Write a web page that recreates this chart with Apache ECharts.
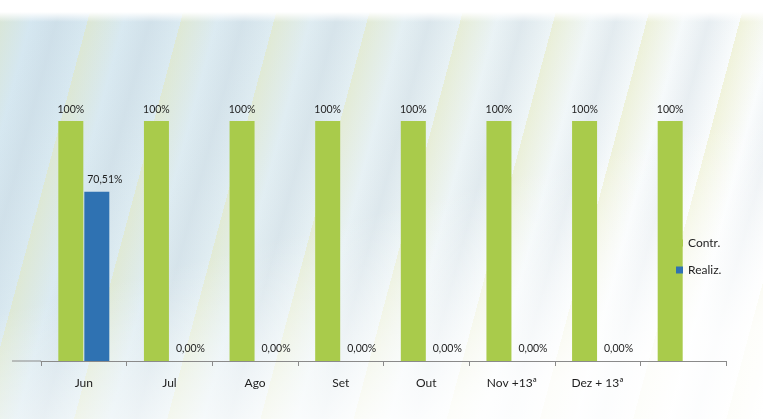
<!DOCTYPE html>
<html>
<head>
<meta charset="utf-8">
<script src="https://cdn.jsdelivr.net/npm/echarts@6/dist/echarts.min.js"></script>
<style>
  html, body { margin: 0; padding: 0; }
  body {
    width: 763px; height: 419px; overflow: hidden;
    background:
      linear-gradient(180deg, #ffffff 0px, #ffffff 12px, rgba(255,255,255,0) 22px),
      linear-gradient(165deg, rgba(255,255,255,0) 50%, rgba(255,255,255,0.85) 85%),
      repeating-linear-gradient(105deg, rgba(228,230,170,0.4) 0px, rgba(228,230,170,0) 35px, rgba(185,200,212,0.25) 60px, rgba(228,230,170,0) 90px),
      linear-gradient(120deg, #d3e6f0 0%, #e0edf2 35%, #ecf4f6 55%, #f8fbfc 75%, #ffffff 100%);
  }
  #chart { width: 763px; height: 419px; }
</style>
</head>
<body>
<div id="chart"></div>
<script>
var months = ['Jun', 'Jul', 'Ago', 'Set', 'Out', 'Nov +13ª', 'Dez + 13ª', ''];
var contr = [100, 100, 100, 100, 100, 100, 100, 100];
var realiz = [70.51, 0, 0, 0, 0, 0, 0, null];

var chart = echarts.init(document.getElementById('chart'));

function pct(v) {
  return v.toFixed(2).replace('.', ',') + '%';
}

var option = {
  textStyle: { fontFamily: 'Lato, "Open Sans", sans-serif' },
  grid: { left: 41, right: 37, top: 121, bottom: 58 },
  legend: {
    orient: 'vertical',
    left: 671,
    top: 232,
    itemWidth: 7,
    itemHeight: 7,
    itemGap: 15,
    icon: 'rect',
    textStyle: { color: '#1e1e1e', fontSize: 12 },
    data: ['Contr.', 'Realiz.']
  },
  xAxis: {
    type: 'category',
    data: months,
    axisLine: { lineStyle: { color: '#8a8a8a', width: 1 } },
    axisTick: { show: true, length: 5, lineStyle: { color: '#8a8a8a' } },
    axisLabel: { color: '#1e1e1e', fontSize: 12, margin: 16 }
  },
  yAxis: {
    type: 'value',
    show: false,
    min: 0,
    max: 100
  },
  series: [
    {
      name: 'Contr.',
      type: 'bar',
      data: contr,
      barWidth: 25,
      barGap: '4%',
      z: 3,
      itemStyle: { color: '#a9cb4b' },
      label: {
        show: true,
        position: 'top',
        distance: 6,
        color: '#1e1e1e',
        fontSize: 10.5,
        formatter: function (p) { return p.value + '%'; }
      }
    },
    {
      name: 'Realiz.',
      type: 'bar',
      data: realiz,
      barWidth: 25,
      itemStyle: { color: '#2f72b2' },
      label: {
        show: true,
        position: 'top',
        distance: 7,
        offset: [8, 0],
        color: '#1e1e1e',
        fontSize: 10.5,
        formatter: function (p) { return pct(p.value); }
      }
    }
  ],
  graphic: [
    {
      type: 'line',
      shape: { x1: 12, y1: 361, x2: 41, y2: 361 },
      style: { stroke: '#8a8a8a', lineWidth: 1 }
    }
  ]
};

chart.setOption(option);
window.onresize = function () {
  chart.resize();
};
</script>
</body>
</html>
